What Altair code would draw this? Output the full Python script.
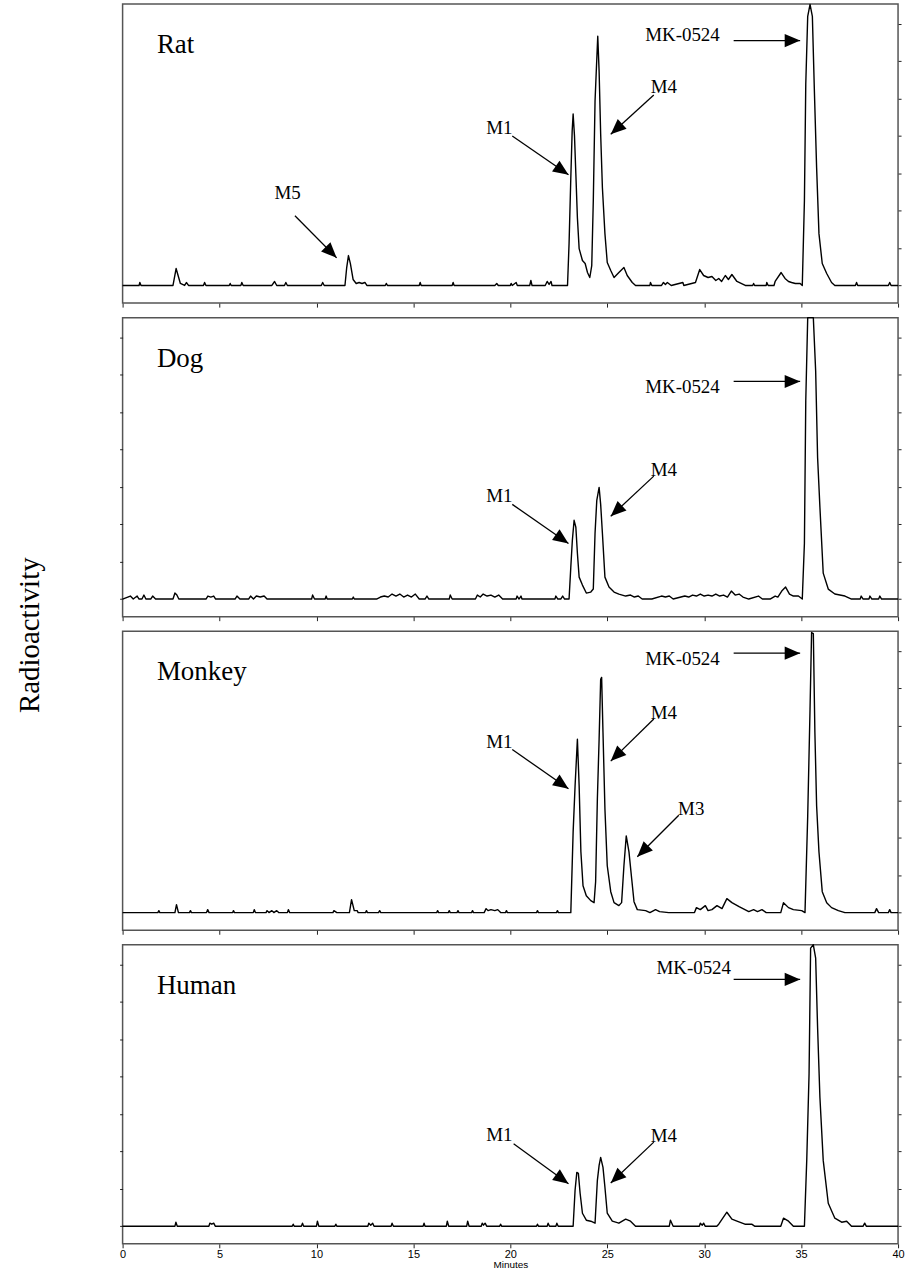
import altair as alt
import pandas as pd
import numpy as np

# ---------------- chromatogram traces: (minutes, radioactivity) ----------------
rat_trace = [(0,0),(0.85,0),(0.89,3),(0.95,0),(2.6,0),(2.76,17),(2.98,2),(3.2,0),(3.29,3),(3.4,0),
 (4.17,0),(4.23,3),(4.3,0),(5.5,0),(5.55,2),(5.6,0),(6.1,0),(6.15,3),(6.22,0),(7.7,0),(7.84,4),(7.95,0),
 (8.35,0),(8.42,3),(8.5,0),(10.25,0),(10.32,3),(10.4,0),(11.47,0),(11.56,18),(11.65,30),(11.75,22),
 (11.89,6),(12.05,2),(12.2,3),(12.35,2),(12.5,3),(12.6,0),(13.55,0),(13.6,2),(13.66,0),(15.3,0),(15.35,3),
 (15.4,0),(17.0,0),(17.05,3),(17.1,0),(19.2,0),(19.3,2),(19.38,0),(20.0,0),(20.04,2),(20.1,0),(20.3,3),
 (20.36,0),(21.0,0),(21.06,5),(21.12,0),(21.8,0),(21.9,4),(22.0,1),(22.1,4),(22.15,0),(22.95,0),(23.03,42),
 (23.12,108),(23.19,155),(23.24,172),(23.31,150),(23.38,112),(23.46,68),(23.55,37),(23.72,25),(23.86,22),
 (23.98,13),(24.1,8),(24.2,20),(24.28,85),(24.37,185),(24.44,218),(24.51,250),(24.58,215),(24.66,152),
 (24.75,98),(24.88,52),(25.0,23),(25.18,15),(25.35,8),(25.6,13),(25.86,18),(26.03,10),(26.29,3),(26.46,0),
 (27.2,0),(27.23,3),(27.3,0),(27.8,0),(27.9,3),(28.0,1),(28.1,3),(28.3,0),(28.9,3),(28.95,0),(29.55,3),
 (29.77,16),(29.97,10),(30.2,8),(30.4,9),(30.6,5),(30.75,7),(30.9,4),(31.09,10),(31.25,6),(31.43,11),
 (31.69,4),(32.12,0),(32.5,0),(32.55,2),(32.6,0),(33.2,0),(33.23,3),(33.3,0),(33.6,0),(33.66,4),(33.97,13),
 (34.17,7),(34.35,4),(34.51,3),(34.7,2),(34.95,2),(35.06,0),(35.17,85),(35.24,202),(35.34,270),(35.46,282),
 (35.58,270),(35.68,198),(35.8,118),(35.92,52),(36.09,22),(36.32,12),(36.57,3),(36.74,0),(37.8,0),
 (37.86,3),(37.92,0),(39.5,0),(39.57,3),(39.64,0),(40,0)]

dog_trace = [(0,0),(0.4,3),(0.55,0),(0.75,3),(0.85,0),(1.0,0),(1.1,4),(1.2,0),(1.45,0),(1.55,3),(1.7,0),
 (2.6,0),(2.7,6),(2.8,4),(2.9,0),(4.3,0),(4.4,3),(4.55,2),(4.7,3),(4.8,0),(5.8,0),(5.9,3),(6.05,0),(6.5,0),
 (6.6,3),(6.75,0),(6.9,3),(7.1,2),(7.3,3),(7.45,0),(9.75,0),(9.8,4),(9.9,0),(10.45,0),(10.5,3),(10.55,0),
 (11.85,0),(11.9,2),(11.95,0),(13.1,0),(13.3,2),(13.5,3),(13.7,2),(13.9,5),(14.1,3),(14.3,5),(14.5,2),
 (14.7,4),(14.9,2),(15.1,5),(15.3,0),(15.6,0),(15.7,3),(15.8,0),(16.85,0),(16.9,4),(17.0,0),(18.2,0),
 (18.3,4),(18.45,2),(18.6,5),(18.8,3),(19.0,4),(19.2,2),(19.4,4),(19.6,0),(20.3,0),(20.35,3),(20.45,0),
 (20.55,3),(20.6,0),(22.3,0),(22.35,3),(22.45,0),(22.6,0),(22.7,3),(22.8,0),(23.03,0),(23.12,32),(23.2,59),
 (23.29,79),(23.38,72),(23.46,46),(23.55,22),(23.72,14),(23.92,6),(24.15,7),(24.28,10),(24.37,66),
 (24.46,99),(24.58,112),(24.66,95),(24.75,66),(24.88,22),(25.09,12),(25.35,7),(25.6,5),(25.95,3),(26.2,4),
 (26.4,2),(26.6,3),(26.8,0),(27.3,0),(27.8,3),(28.0,2),(28.2,3),(28.4,0),(29.0,3),(29.2,2),(29.4,4),
 (29.6,3),(29.8,5),(30.0,3),(30.2,4),(30.4,3),(30.6,5),(30.8,3),(31.0,4),(31.2,2),(31.4,8),(31.6,4),
 (31.8,5),(32.0,2),(32.3,0),(32.8,3),(33.0,0),(33.4,0),(33.66,3),(33.8,2),(34.0,8),(34.2,12),(34.4,5),
 (34.6,3),(34.86,3),(35.06,0),(35.17,56),(35.24,199),(35.34,300),(35.46,330),(35.63,320),(35.75,229),
 (35.85,142),(35.97,92),(36.14,26),(36.4,10),(36.74,5),(37.26,3),(37.6,0),(38.05,0),(38.1,3),(38.2,0),
 (38.5,0),(38.55,3),(38.65,0),(39.0,0),(39.06,3),(39.15,0),(40,0)]

monkey_trace = [(0,0),(1.82,0),(1.87,2),(1.92,0),(2.7,0),(2.78,8),(2.88,0),(3.45,0),(3.5,2),(3.55,0),
 (4.33,0),(4.39,3),(4.46,0),(5.68,0),(5.72,2),(5.77,0),(6.74,0),(6.79,3),(6.85,0),(7.4,0),(7.45,2),(7.55,0),
 (7.7,2),(7.8,0),(7.95,2),(8.05,0),(8.5,0),(8.55,3),(8.62,0),(10.85,0),(10.9,2),(11.05,0),(11.7,0),
 (11.81,13),(11.95,2),(12.1,2),(12.15,0),(12.53,0),(12.58,2),(12.63,0),(13.2,0),(13.26,2),(13.32,0),
 (16.2,0),(16.25,2),(16.3,0),(16.8,0),(16.85,2),(16.9,0),(17.25,0),(17.3,2),(17.35,0),(18.0,0),(18.05,2),
 (18.1,0),(18.65,0),(18.75,4),(18.85,2),(19.0,3),(19.2,2),(19.35,3),(19.5,0),(19.75,0),(19.8,2),(19.85,0),
 (21.35,0),(21.4,2),(21.45,0),(22.38,0),(22.43,2),(22.48,0),(23.12,0),(23.24,81),(23.34,127),(23.46,174),
 (23.55,127),(23.64,61),(23.75,27),(23.92,17),(24.15,12),(24.32,10),(24.4,31),(24.49,114),(24.58,174),
 (24.66,234),(24.71,236),(24.78,181),(24.88,104),(25.0,47),(25.18,21),(25.35,10),(25.6,7),(25.74,10),
 (25.86,47),(25.98,77),(26.12,61),(26.26,34),(26.38,11),(26.55,3),(26.98,2),(27.2,0),(27.49,3),(27.7,1),
 (28.17,0),(29.5,0),(29.6,5),(29.8,3),(30.06,7),(30.2,2),(30.4,3),(30.66,7),(30.92,4),(31.17,14),
 (31.43,10),(31.8,6),(32.1,3),(32.3,1),(32.55,3),(32.75,1),(32.98,3),(33.2,0),(33.95,0),(34.09,10),
 (34.35,5),(34.6,3),(35.03,2),(35.2,0),(35.34,97),(35.46,204),(35.54,281),(35.63,280),(35.71,181),
 (35.8,107),(35.92,61),(36.09,21),(36.32,10),(36.57,5),(36.92,2),(37.26,0),(38.8,0),(38.89,4),(39.0,0),
 (39.5,0),(39.57,3),(39.64,0),(40,0)]

human_trace = [(0,0),(2.7,0),(2.75,4),(2.82,0),(4.45,0),(4.5,3),(4.6,2),(4.7,3),(4.78,0),(8.75,0),(8.8,2),
 (8.85,0),(9.22,0),(9.28,3),(9.34,0),(10.0,0),(10.05,5),(10.12,0),(10.95,0),(11.0,2),(11.05,0),(12.65,0),
 (12.7,3),(12.8,1),(12.9,3),(12.97,0),(13.85,0),(13.9,3),(13.97,0),(15.5,0),(15.55,3),(15.6,0),(16.7,0),
 (16.75,5),(16.82,0),(17.75,0),(17.8,5),(17.87,0),(18.5,0),(18.55,3),(18.62,1),(18.7,3),(18.78,0),
 (19.45,0),(19.5,2),(19.55,0),(21.35,0),(21.4,2),(21.45,0),(21.9,0),(21.95,3),(22.02,0),(22.35,0),(22.4,3),
 (22.47,0),(23.24,0),(23.34,36),(23.43,54),(23.51,53),(23.6,33),(23.72,13),(23.92,6),(24.15,5),(24.37,3),
 (24.49,46),(24.58,61),(24.66,69),(24.78,59),(24.88,39),(25.0,13),(25.26,5),(25.6,3),(25.95,7),(26.2,5),
 (26.46,0),(28.2,0),(28.26,6),(28.4,0),(29.75,0),(29.8,3),(29.9,1),(29.97,3),(30.05,0),(30.65,0),(30.75,2),
 (31.17,14),(31.43,7),(31.69,5),(32.1,2),(32.45,2),(32.6,0),(33.95,0),(34.09,8),(34.35,5),(34.6,0),
 (35.17,0),(35.29,66),(35.41,153),(35.49,279),(35.63,320),(35.75,269),(35.85,199),(35.97,129),(36.14,66),
 (36.4,23),(36.74,8),(37.09,4),(37.35,5),(37.6,0),(38.2,0),(38.28,3),(38.36,0),(40,0)]

species = ["Rat", "Dog", "Monkey", "Human"]
species_pos = (1.77, 233)

# ---------------- peak annotations ----------------
rat_labels = ["M5", "M1", "M4", "MK-0524"]
rat_label_pos = [(8.51, 93), (19.43, 158), (27.92, 199), (28.88, 251)]
rat_arrow_from = [(8.89, 70), (20.1, 150), (27.4, 191), (31.52, 245.7)]
rat_arrow_to = [(11.04, 27.7), (23.0, 111), (25.18, 151.7), (34.95, 245.7)]

dog_labels = ["M1", "M4", "MK-0524"]
dog_label_pos = [(19.43, 103), (27.92, 129.7), (28.88, 212.3)]
dog_arrow_from = [(20.1, 95), (27.4, 123.3), (31.52, 218.3)]
dog_arrow_to = [(23.0, 55.7), (25.18, 83), (34.95, 218.3)]

monkey_labels = ["M1", "M4", "M3", "MK-0524"]
monkey_label_pos = [(19.43, 171.6), (27.92, 200.3), (29.33, 104.3), (28.88, 254.3)]
monkey_arrow_from = [(20.1, 163.6), (27.4, 194.3), (28.69, 97.6), (31.52, 260.3)]
monkey_arrow_to = [(23.0, 124.3), (25.18, 152), (26.55, 56), (34.95, 260.3)]

human_labels = ["M1", "M4", "MK-0524"]
human_label_pos = [(19.43, 91.3), (27.92, 90), (29.46, 259.3)]
human_arrow_from = [(20.17, 82.6), (27.4, 84.3), (31.52, 247.6)]
human_arrow_to = [(23.0, 42.6), (25.18, 43.3), (34.95, 247.6)]

x_ticks = [0, 5, 10, 15, 20, 25, 30, 35, 40]
y_ticks = [0, 37.5, 75, 112.5, 150, 187.5, 225, 262.5]

W, H = 778, 300
X_DOMAIN = [0, 40]
Y_DOMAIN = [-17.7, 282.3]
PX_X = W / (X_DOMAIN[1] - X_DOMAIN[0])
PX_Y = H / (Y_DOMAIN[1] - Y_DOMAIN[0])

SERIF = "Liberation Serif"
SANS = "Liberation Sans"
ARROW = "M0,0L-2,-0.85L-2,0.85Z"


def xs():
    return alt.Scale(domain=X_DOMAIN, nice=False, zero=False)


def ys():
    return alt.Scale(domain=Y_DOMAIN, nice=False, zero=False, clamp=True)


def make_panel(name, trace, labels, label_pos, arr_from, arr_to, left_axis, bottom, extra=None):
    tr = pd.DataFrame(trace, columns=["t", "h"])
    ann = pd.DataFrame({
        "label": labels,
        "lt": [p[0] for p in label_pos], "lh": [p[1] for p in label_pos],
        "t1": [p[0] for p in arr_from], "h1": [p[1] for p in arr_from],
        "t2": [p[0] for p in arr_to], "h2": [p[1] for p in arr_to],
    })
    ann["angle"] = (np.degrees(np.arctan2(-(ann.h2 - ann.h1) * PX_Y, (ann.t2 - ann.t1) * PX_X)) + 360) % 360

    if bottom:
        xaxis = alt.Axis(orient="bottom", values=x_ticks, labels=True, ticks=True, tickSize=4,
                         domain=False, grid=False, title="Minutes", labelFont=SANS, labelFontSize=11,
                         labelColor="black", labelPadding=1, titleFont=SANS, titleFontSize=10,
                         titleFontWeight="normal", titleColor="black", titlePadding=0,
                         labelFlush=False, tickColor="#222222")
    else:
        xaxis = alt.Axis(orient="bottom", values=x_ticks, labels=False, ticks=True, tickSize=4,
                         domain=False, grid=False, title="", tickColor="#222222")
    yaxis_r = alt.Axis(orient="right", values=y_ticks, labels=False, ticks=True, tickSize=3,
                       domain=False, grid=False, title="", tickColor="#222222")

    line = alt.Chart(tr).mark_line(color="black", strokeWidth=1.4, strokeJoin="round").encode(
        x=alt.X("t:Q", scale=xs(), axis=xaxis),
        y=alt.Y("h:Q", scale=ys(), axis=yaxis_r),
    )
    rules = alt.Chart(ann).mark_rule(color="black", strokeWidth=1.3).encode(
        x=alt.X("t1:Q", scale=xs(), axis=None), x2="t2:Q",
        y=alt.Y("h1:Q", scale=ys(), axis=None), y2="h2:Q",
    )
    heads = alt.Chart(ann).mark_point(shape=ARROW, filled=True, size=240, color="black",
                                      opacity=1, strokeWidth=0).encode(
        x=alt.X("t2:Q", scale=xs(), axis=None),
        y=alt.Y("h2:Q", scale=ys(), axis=None),
        angle=alt.Angle("angle:Q", scale=None),
    )
    texts = alt.Chart(ann).mark_text(font=SERIF, fontSize=19, color="black", align="center",
                                     baseline="middle").encode(
        x=alt.X("lt:Q", scale=xs(), axis=None),
        y=alt.Y("lh:Q", scale=ys(), axis=None),
        text="label:N",
    )
    sp = pd.DataFrame({"name": [name], "t": [species_pos[0]], "h": [species_pos[1]]})
    if left_axis:
        yax_sp = alt.Axis(orient="left", values=y_ticks, labels=False, ticks=True, tickSize=3,
                          domain=False, grid=False, title="", tickColor="#222222")
    else:
        yax_sp = None
    sp_text = alt.Chart(sp).mark_text(font=SERIF, fontSize=27, color="black", align="left",
                                      baseline="alphabetic").encode(
        x=alt.X("t:Q", scale=xs(), axis=None),
        y=alt.Y("h:Q", scale=ys(), axis=yax_sp),
        text="name:N",
    )
    layers = [line, rules, heads, texts, sp_text]
    if extra is not None:
        layers.append(extra)
    return alt.layer(*layers).resolve_axis(x="independent", y="independent").properties(
        width=W, height=H)


ylabel = alt.Chart(pd.DataFrame({"txt": ["Radioactivity"]})).mark_text(
    angle=270, font=SERIF, fontSize=29, color="black", align="center", baseline="middle"
).encode(text="txt:N", x=alt.value(-93), y=alt.value(4))

p_rat = make_panel("Rat", rat_trace, rat_labels, rat_label_pos, rat_arrow_from, rat_arrow_to, False, False)
p_dog = make_panel("Dog", dog_trace, dog_labels, dog_label_pos, dog_arrow_from, dog_arrow_to, True, False)
p_mon = make_panel("Monkey", monkey_trace, monkey_labels, monkey_label_pos, monkey_arrow_from,
                   monkey_arrow_to, False, False, extra=ylabel)
p_hum = make_panel("Human", human_trace, human_labels, human_label_pos, human_arrow_from,
                   human_arrow_to, True, True)

chart = alt.vconcat(p_rat, p_dog, p_mon, p_hum, spacing=14.6, bounds="flush").properties(
    padding={"left": 15, "top": 0, "right": 8, "bottom": 10},
    background="white",
).configure_view(
    stroke="#555555", strokeWidth=1.5
)

chart.save("out.html", embed_options={"renderer": "svg", "actions": False})
